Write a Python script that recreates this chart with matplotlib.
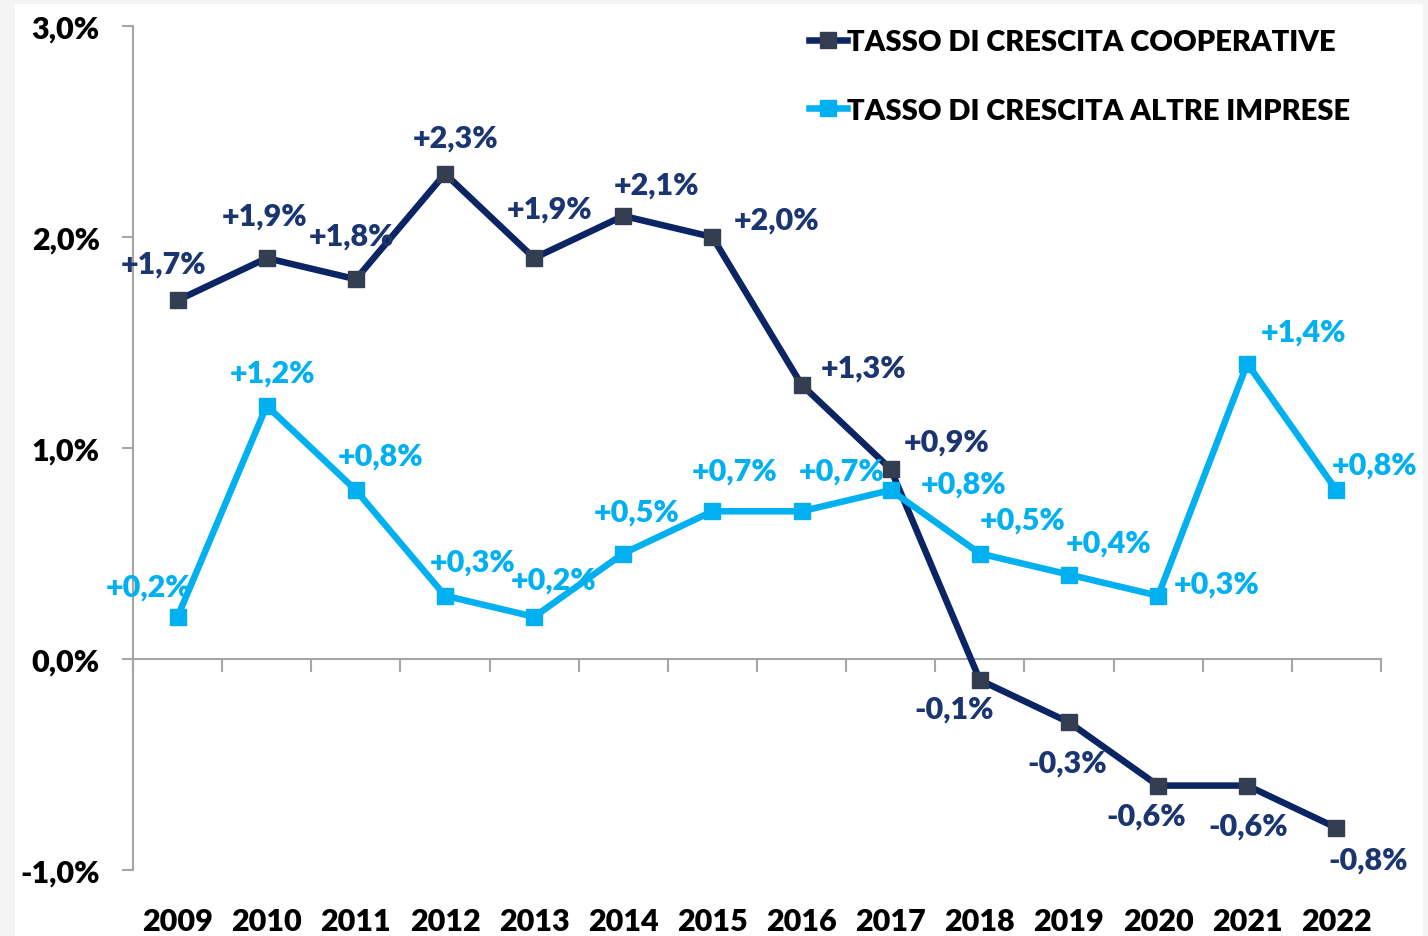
import matplotlib
matplotlib.use("Agg")
import matplotlib.pyplot as plt
from matplotlib.patches import Rectangle
from matplotlib.lines import Line2D

years = ["2009", "2010", "2011", "2012", "2013", "2014", "2015",
         "2016", "2017", "2018", "2019", "2020", "2021", "2022"]
coop = [1.7, 1.9, 1.8, 2.3, 1.9, 2.1, 2.0, 1.3, 0.9, -0.1, -0.3, -0.6, -0.6, -0.8]
altre = [0.2, 1.2, 0.8, 0.3, 0.2, 0.5, 0.7, 0.7, 0.8, 0.5, 0.4, 0.3, 1.4, 0.8]
coop_labels = ["+1,7%", "+1,9%", "+1,8%", "+2,3%", "+1,9%", "+2,1%", "+2,0%",
               "+1,3%", "+0,9%", "-0,1%", "-0,3%", "-0,6%", "-0,6%", "-0,8%"]
altre_labels = ["+0,2%", "+1,2%", "+0,8%", "+0,3%", "+0,2%", "+0,5%", "+0,7%",
                "+0,7%", "+0,8%", "+0,5%", "+0,4%", "+0,3%", "+1,4%", "+0,8%"]
yticks = [-1.0, 0.0, 1.0, 2.0, 3.0]
ytick_labels = ["-1,0%", "0,0%", "1,0%", "2,0%", "3,0%"]
series_names = ["TASSO DI CRESCITA COOPERATIVE", "TASSO DI CRESCITA ALTRE IMPRESE"]

# label offsets in pixels (dx, dy) from the marker
coop_off = [(-14, 37), (-2, 43), (-4, 44), (11, 36), (15, 50), (33, 31), (64, 17),
            (62, 17), (56, 28), (-26, -28), (-2, -40), (-12, -30), (1, -40), (32, -32)]
altre_off = [(-29, 30), (6, 33), (25, 35), (28, 34), (19, 37), (13, 42), (22, 41),
             (40, 41), (73, 7), (43, 34), (40, 32), (58, 12), (56, 32), (38, 26)]

navy = "#0b2463"
navy_marker = "#333f50"
navy_text = "#1a3570"
cyan = "#00b0f0"
W = "heavy"

plt.rcParams['font.family'] = ['Lato', 'DejaVu Sans']
plt.rcParams['font.weight'] = W

fig = plt.figure(figsize=(14.28, 9.37), dpi=100)
fig.patch.set_facecolor("#f4f4f4")
fig.add_artist(Rectangle((15 / 1428, 0), (1423 - 15) / 1428, 1 - 5 / 937,
                         transform=fig.transFigure, facecolor="white",
                         edgecolor="none", zorder=0))

ax = fig.add_axes([133 / 1428, 1 - 871 / 937, (1381 - 133) / 1428, (871 - 27) / 937])
ax.set_facecolor("none")
x = list(range(len(years)))

ax.plot(x, coop, color=navy, lw=4.7, marker="s", markersize=11.5,
        markerfacecolor=navy_marker, markeredgecolor=navy_marker, zorder=3)
ax.plot(x, altre, color=cyan, lw=4.7, marker="s", markersize=11.5,
        markerfacecolor=cyan, markeredgecolor=cyan, zorder=3)

for xi, v, lab, (dx, dy) in zip(x, coop, coop_labels, coop_off):
    ax.annotate(lab, (xi, v), xytext=(dx, dy), textcoords="offset pixels",
                ha="center", va="center", fontsize=22, fontweight=W,
                color=navy_text, zorder=5)
for xi, v, lab, (dx, dy) in zip(x, altre, altre_labels, altre_off):
    ax.annotate(lab, (xi, v), xytext=(dx, dy), textcoords="offset pixels",
                ha="center", va="center", fontsize=22, fontweight=W,
                color=cyan, zorder=5)

ax.set_xlim(-0.5, len(years) - 0.5)
ax.set_ylim(-1.0, 3.0)

for s in ["top", "right"]:
    ax.spines[s].set_visible(False)
ax.spines["left"].set_color("#a6a6a6")
ax.spines["left"].set_linewidth(1.5)
ax.spines["bottom"].set_position(("data", 0))
ax.spines["bottom"].set_color("#a6a6a6")
ax.spines["bottom"].set_linewidth(1.5)

ax.set_yticks(yticks)
ax.set_yticklabels(ytick_labels)
ax.tick_params(axis="y", direction="out", length=8, width=1.5, color="#a6a6a6",
               pad=16, labelsize=22, labelcolor="black")

# category boundaries as ticks on the zero line
ax.set_xticks([i - 0.5 for i in range(len(years) + 1)])
ax.set_xticklabels([])
ax.tick_params(axis="x", direction="out", length=9, width=1.5, color="#a6a6a6")

sec = ax.secondary_xaxis(0)
sec.set_xticks(x)
sec.set_xticklabels(years)
sec.spines["bottom"].set_visible(False)
sec.tick_params(axis="x", length=0, pad=27, labelsize=22, labelcolor="black")
for t in sec.get_xticklabels():
    t.set_fontweight(W)
for t in ax.get_yticklabels():
    t.set_fontweight(W)

handles = [
    Line2D([0], [0], color=navy, lw=4.7, marker="s", markersize=11.5,
           markerfacecolor=navy_marker, markeredgecolor=navy_marker),
    Line2D([0], [0], color=cyan, lw=4.7, marker="s", markersize=11.5,
           markerfacecolor=cyan, markeredgecolor=cyan),
]
leg = ax.legend(handles, series_names, loc="upper right",
                bbox_to_anchor=(1376 / 1428, 1 - 4 / 937),
                bbox_transform=fig.transFigure, frameon=False,
                handlelength=1.3, handletextpad=0.0, labelspacing=1.45,
                prop={"size": 21, "weight": W})

fig.savefig("out.png", dpi=100, facecolor=fig.get_facecolor())
